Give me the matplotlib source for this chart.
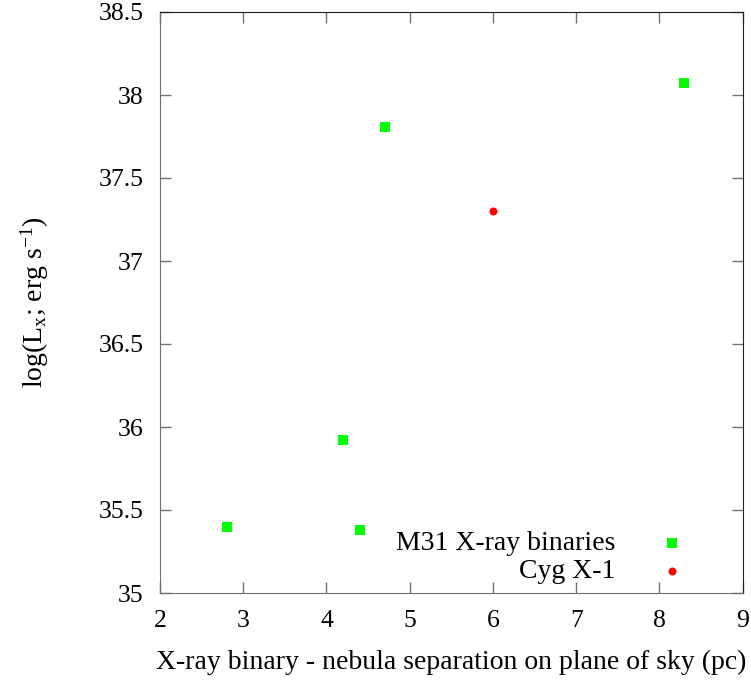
import matplotlib
matplotlib.use("Agg")
import matplotlib.pyplot as plt

# M31 X-ray binaries
m31_sep = [2.8, 4.4, 4.2, 4.7, 8.3]
m31_lx = [35.40, 35.38, 35.92, 37.81, 38.07]

# Cyg X-1
cyg_sep = [6.0]
cyg_lx = [37.30]

xticks = [2, 3, 4, 5, 6, 7, 8, 9]
yticks = [35, 35.5, 36, 36.5, 37, 37.5, 38, 38.5]

plt.rcParams['font.family'] = ['Liberation Serif', 'DejaVu Serif']
plt.rcParams['mathtext.fontset'] = 'custom'
plt.rcParams['mathtext.rm'] = 'Liberation Serif'
plt.rcParams['mathtext.it'] = 'Liberation Serif:italic'

W, H = 751, 684
fig = plt.figure(figsize=(W / 100, H / 100), dpi=100)
ax = fig.add_axes([160 / W, (H - 593) / H, (742.7 - 160) / W, (593 - 12) / H])

ax.scatter(m31_sep, m31_lx, marker='s', s=52, color='#00ff00', linewidths=0,
           label='M31 X-ray binaries')
ax.scatter(cyg_sep, cyg_lx, marker='o', s=33, color='#ff0000', linewidths=0,
           label='Cyg X-1')

ax.set_xlim(2, 9)
ax.set_ylim(35, 38.5)
ax.set_xticks(xticks)
ax.set_yticks(yticks)
ax.set_xticklabels([str(t) for t in xticks])
ax.set_yticklabels([('%g' % t) for t in yticks])
ax.tick_params(direction='in', length=8, width=1, color='#707070',
               top=True, right=True, labelsize=18.5, pad=12)

for s in ['left', 'bottom']:
    ax.spines[s].set_color('#707070')
for s in ['top', 'right']:
    ax.spines[s].set_color('#202020')

ax.set_xlabel('X-ray binary - nebula separation on plane of sky (pc)',
              fontsize=20, labelpad=13)
ax.set_ylabel(r'log(L$_{\mathrm{x}}$; erg s$^{-1}$)', fontsize=20, labelpad=34)

ax.legend(loc='lower right', bbox_to_anchor=(0.927, -0.004), frameon=False,
          markerfirst=False, fontsize=20, handletextpad=1.45,
          labelspacing=0.1, borderaxespad=0.0, handlelength=1.2)

fig.savefig('out.png', dpi=100)
